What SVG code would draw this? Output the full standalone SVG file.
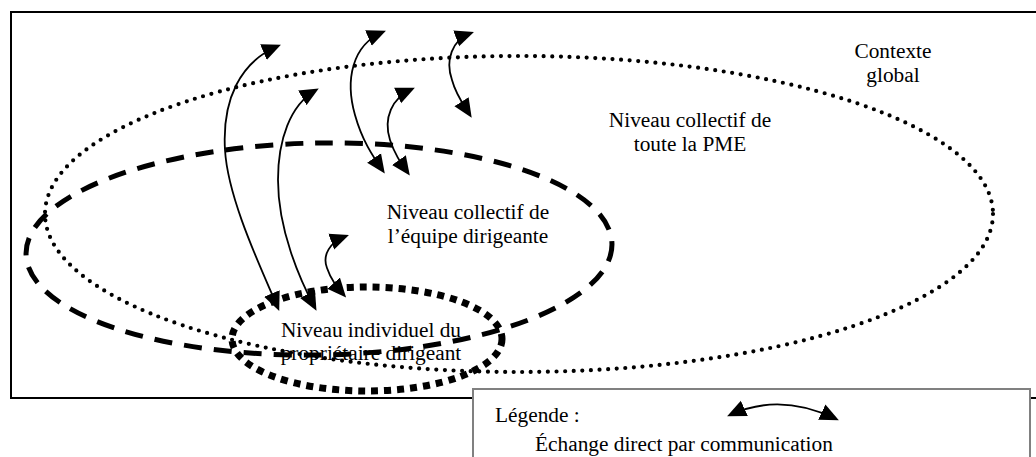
<svg xmlns="http://www.w3.org/2000/svg" width="1036" height="457" viewBox="0 0 1036 457">
<style>
  .t { font-family: "Liberation Serif", "Times New Roman", "DejaVu Serif", serif; font-size: 21.33px; fill: #000; }
  .lvl { fill: none; stroke: #000; }
  .pme { stroke-width: 4.2; stroke-dasharray: 0 8.6; stroke-linecap: round; }
  .equipe { stroke-width: 5; stroke-dasharray: 18 12; }
  .indiv { stroke-width: 7; stroke-dasharray: 7 6; }
  .arr { fill: none; stroke: #000; stroke-width: 1.8; marker-start: url(#ah); marker-end: url(#ah); }
</style>
<defs>
  <marker id="ah" markerUnits="userSpaceOnUse" markerWidth="20" markerHeight="18" refX="15" refY="8" orient="auto-start-reverse" viewBox="0 0 19 16">
    <path d="M0,0 L18,8 L0,16 z" fill="#000"/>
  </marker>
</defs>
<rect x="0" y="0" width="1036" height="457" fill="#fff"/>
<g id="contexte-global" class="t" font-family="Liberation Serif, serif">
  <rect x="11" y="12" width="1040" height="386" fill="none" stroke="#000" stroke-width="2"/>
  <text x="893" y="58" text-anchor="middle">Contexte</text>
  <text x="893" y="82" text-anchor="middle">global</text>
</g>
<g id="niveau-pme" class="t" font-family="Liberation Serif, serif">
  <ellipse class="lvl pme" cx="519" cy="214" rx="474" ry="158"/>
  <text x="690" y="127" text-anchor="middle">Niveau collectif de</text>
  <text x="690" y="151" text-anchor="middle">toute la PME</text>
</g>
<g id="niveau-equipe" class="t" font-family="Liberation Serif, serif">
  <ellipse class="lvl equipe" cx="319" cy="249" rx="293" ry="106" transform="rotate(-1 319 249)"/>
  <text x="468" y="219" text-anchor="middle">Niveau collectif de</text>
  <text x="468" y="243" text-anchor="middle">l’équipe dirigeante</text>
</g>
<g id="niveau-individuel" class="t" font-family="Liberation Serif, serif">
  <ellipse class="lvl indiv" cx="367" cy="339" rx="135" ry="52"/>
  <text x="371" y="337" text-anchor="middle">Niveau individuel du</text>
  <text x="371" y="360" text-anchor="middle">propriétaire dirigeant</text>
</g>
<g id="connectors">
  <path class="arr" d="M278,46 C240,62 222,100 225,150 C228,200 262,270 278,308"/>
  <path class="arr" d="M316,90 C290,105 278,140 278,180 C278,230 300,280 315,308"/>
  <path class="arr" d="M383,32 C352,45 345,80 355,115 C362,140 372,155 383,171"/>
  <path class="arr" d="M412,89 C392,98 383,118 390,140 C395,155 401,163 408,173"/>
  <path class="arr" d="M471,33 C452,40 445,60 452,80 C456,95 463,104 470,115"/>
  <path class="arr" d="M346,236 C330,242 322,255 327,268 C331,280 337,287 344,295"/>
</g>
<g id="legende" class="t" font-family="Liberation Serif, serif">
  <rect x="473" y="389" width="557" height="80" fill="#fff" stroke="#808080" stroke-width="2"/>
  <text x="495" y="422">Légende :</text>
  <path class="arr" d="M730,415 Q780,392 836,419"/>
  <text x="535" y="451">Échange direct par communication</text>
</g>
</svg>
